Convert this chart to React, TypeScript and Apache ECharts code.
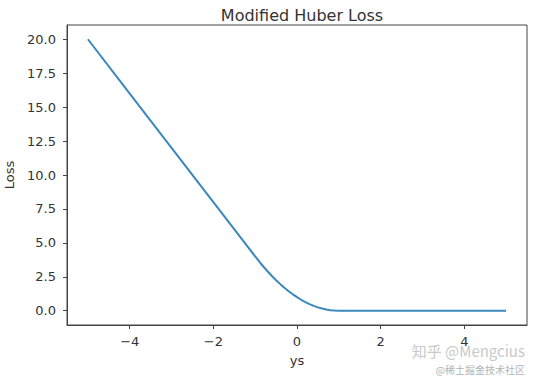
import React, { useEffect, useRef } from "react";
import * as echarts from "echarts";

const xValues = [-5, -4, -3, -2, -1, -0.9, -0.8, -0.7, -0.6, -0.5, -0.4, -0.3, -0.2, -0.1, 0, 0.1, 0.2, 0.3, 0.4, 0.5, 0.6, 0.7, 0.8, 0.9, 1, 2, 3, 4, 5];
const lossValues = [20, 16, 12, 8, 4, 3.61, 3.24, 2.89, 2.56, 2.25, 1.96, 1.69, 1.44, 1.21, 1, 0.81, 0.64, 0.49, 0.36, 0.25, 0.16, 0.09, 0.04, 0.01, 0, 0, 0, 0, 0];
const xTicks = [-4, -2, 0, 2, 4];
const yTicks = [0, 2.5, 5, 7.5, 10, 12.5, 15, 17.5, 20];

const FONT = "DejaVu Sans";

export default function App() {
  const ref = useRef<HTMLDivElement>(null);
  useEffect(() => {
    if (!ref.current) return;
    const chart = echarts.init(ref.current, null, { renderer: "svg" });
    const axisText = { color: "#333", fontFamily: FONT, fontSize: 13 };
    chart.setOption({
      animation: false,
      backgroundColor: "#fff",
      title: {
        text: "Modified Huber Loss",
        left: 297,
        textAlign: "center",
        top: 2,
        textStyle: { fontFamily: FONT, fontSize: 16, fontWeight: "normal", color: "#333" },
      },
      grid: {
        left: 67,
        right: 10,
        top: 25,
        bottom: 51,
        show: true,
        borderColor: "#444",
        borderWidth: 1,
        outerBoundsMode: "none",
      },
      xAxis: {
        type: "value",
        min: -5.5,
        max: 5.5,
        name: "ys",
        nameLocation: "middle",
        nameGap: 29,
        nameTextStyle: axisText,
        axisLine: { show: true, onZero: false, lineStyle: { color: "#444" } },
        axisTick: { show: true, length: 4, customValues: xTicks, lineStyle: { color: "#444" } },
        axisLabel: {
          ...axisText,
          margin: 10,
          lineHeight: 12,
          customValues: xTicks,
          formatter: (v: number) => (v < 0 ? "\u2212" + Math.abs(v) : String(v)),
        },
        splitLine: { show: false },
      },
      yAxis: {
        type: "value",
        min: -1.05,
        max: 21.05,
        name: "Loss",
        nameLocation: "middle",
        nameGap: 51,
        nameTextStyle: axisText,
        axisLine: { show: true, onZero: false, lineStyle: { color: "#444" } },
        axisTick: { show: true, length: 4, customValues: yTicks, lineStyle: { color: "#444" } },
        axisLabel: {
          ...axisText,
          margin: 11,
          customValues: yTicks,
          formatter: (v: number) => v.toFixed(1),
        },
        splitLine: { show: false },
      },
      series: [
        {
          type: "line",
          data: xValues.map((x, i) => [x, lossValues[i]]),
          showSymbol: false,
          lineStyle: { color: "#3a88bd", width: 2 },
        },
      ],
      graphic: [
        {
          type: "text",
          right: 12,
          top: 342,
          style: { text: "知乎 @Mengcius", font: "15px 'Noto Sans CJK SC'", fill: "#c9c9c9", lineHeight: 16 },
        },
        {
          type: "text",
          right: 12,
          top: 363,
          style: { text: "@稀土掘金技术社区", font: "10px 'Noto Sans CJK SC'", fill: "#b5b5b5", lineHeight: 12 },
        },
      ],
    });
    return () => chart.dispose();
  }, []);
  return <div ref={ref} style={{ width: 537, height: 376, position: "absolute", left: 0, top: 0 }} />;
}
